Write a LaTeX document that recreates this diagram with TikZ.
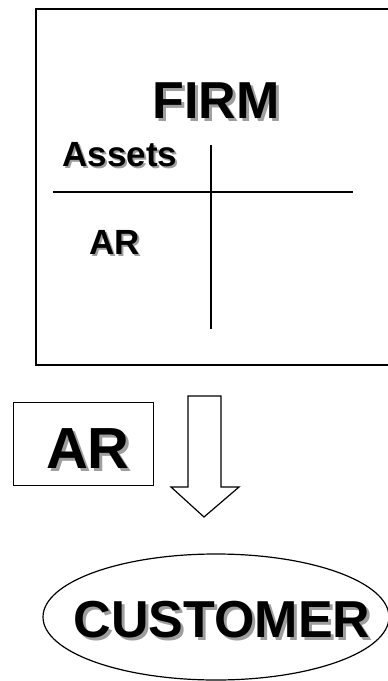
\documentclass[tikz,border=0pt]{standalone}
\usepackage{fontspec}
\setmainfont{Liberation Sans}
\usetikzlibrary{shapes.geometric}
\newcommand\shadowed[2]{\leavevmode\rlap{\kern#1\raisebox{-#1}{\textcolor{black!38}{#2}}}#2}
\begin{document}
\begin{tikzpicture}[x=1pt,y=-1pt,
  lbl/.style={font=\bfseries, anchor=base, inner sep=0pt, text=black},
  frame/.style={draw, line width=2pt, inner sep=0pt},
  rule/.style={line width=1.5pt},
  outline/.style={draw, line width=1.2pt, line join=miter}]
\useasboundingbox (0,0) rectangle (388,681);
% firm box
\node (firmbox) [frame, anchor=north west, minimum width=358pt, minimum height=356.5pt] at (35,7.5) {};
% T account
\coordinate (hl) at (53,192);
\coordinate (hr) at (353,192);
\coordinate (vt) at (211,145);
\coordinate (vb) at (211,329);
\draw[rule] (hl) -- (hr);
\draw[rule] (vt) -- (vb);
% texts
\node (firm) [lbl, font=\bfseries\fontsize{52}{60}\selectfont] at (216,118) {\shadowed{3pt}{FIRM}};
\node (assets) [lbl, font=\bfseries\fontsize{35}{42}\selectfont] at (120,166) {\shadowed{2pt}{Assets}};
\node (ar) [lbl, font=\bfseries\fontsize{35}{42}\selectfont] at (115,254) {\shadowed{2pt}{AR}};
% AR box
\node (arbox) [frame, line width=1.3pt, anchor=north west, minimum width=140pt, minimum height=83pt] at (13,402) {};
\node (arbig) [lbl, font=\bfseries\fontsize{58}{66}\selectfont] at (88,468) {\shadowed{3pt}{AR}};
% block arrow
\draw[outline] (188,396) -- (221,396) -- (221,487) -- (239,487) -- (204,517) -- (171,487) -- (188,487) -- cycle;
% customer
\node (cust) [ellipse, draw, line width=1.2pt, inner sep=0pt, minimum width=346pt, minimum height=126pt] at (216,617) {};
\node (custT) [lbl, font=\bfseries\fontsize{52}{60}\selectfont] at (222,637) {\shadowed{3pt}{CUSTOMER}};
\end{tikzpicture}
\end{document}
